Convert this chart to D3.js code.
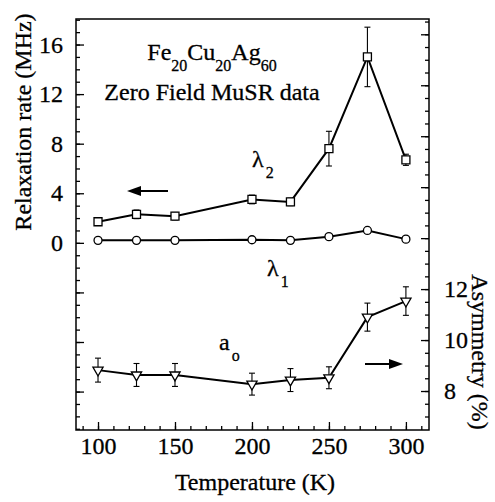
<!DOCTYPE html>
<html>
<head>
<meta charset="utf-8">
<script src="https://cdn.jsdelivr.net/npm/d3@7"></script>
<style>
  body { margin: 0; background: #fff; }
  svg text { stroke: #000; stroke-width: 0.3px; }
</style>
</head>
<body>
<script>
// data
var temps = [100, 125, 150, 200, 225, 250, 275, 300];
var lambda2 = [1.7, 2.3, 2.15, 3.5, 3.3, 7.6, 15.0, 6.7];
var lambda2Err = [0.3, 0.35, 0.3, 0.35, 0.3, 1.4, 2.4, 0.45];
var lambda1 = [0.2, 0.2, 0.2, 0.25, 0.2, 0.5, 1.0, 0.3];
var asym = [8.82, 8.63, 8.63, 8.27, 8.43, 8.52, 10.9, 11.53];
var asymErr = [0.47, 0.45, 0.45, 0.43, 0.45, 0.43, 0.55, 0.56];

var xTicks = [100, 150, 200, 250, 300];
var leftTicks = [0, 4, 8, 12, 16];
var rightTicks = [8, 10, 12];

var serif = "'Liberation Serif', 'Times New Roman', Times, serif";
var width = 495, height = 502;
var margin = {left: 76, top: 19, right: 66, bottom: 72};
var plotR = width - margin.right, plotB = height - margin.bottom;

var svg = d3.select("body").append("svg")
  .attr("width", width)
  .attr("height", height)
  .attr("font-family", serif);

var x = d3.scaleLinear().domain([85.7, 315]).range([margin.left, plotR]);
var yL = d3.scaleLinear().domain([-15.1, 18.06]).range([plotB, margin.top]);
var yR = d3.scaleLinear().domain([6.47, 22.6]).range([plotB, margin.top]);

// minor ticks
svg.append("g")
  .attr("transform", "translate(0," + plotB + ")")
  .call(d3.axisBottom(x).tickValues(d3.range(90, 315, 10)).tickSize(-4).tickFormat(""));
svg.append("g")
  .attr("transform", "translate(" + margin.left + ",0)")
  .call(d3.axisLeft(yL).tickValues(d3.range(-15, 19, 1)).tickSize(-4).tickFormat(""));
svg.append("g")
  .attr("transform", "translate(" + plotR + ",0)")
  .call(d3.axisRight(yR).tickValues(d3.range(7, 22.6, 0.5)).tickSize(-4).tickFormat(""));

// major ticks + labels
var xa = svg.append("g")
  .attr("transform", "translate(0," + plotB + ")")
  .call(d3.axisBottom(x).tickValues(xTicks).tickSize(-8).tickPadding(16));
var la = svg.append("g")
  .attr("transform", "translate(" + margin.left + ",0)")
  .call(d3.axisLeft(yL).tickValues([-12, -8, -4].concat(leftTicks)).tickSize(-8).tickPadding(13)
    .tickFormat(function(d) { return d >= 0 ? d : ""; }));
var ra = svg.append("g")
  .attr("transform", "translate(" + plotR + ",0)")
  .call(d3.axisRight(yR).tickValues(rightTicks.concat([14, 16, 18, 20, 22])).tickSize(-8).tickPadding(15)
    .tickFormat(function(d) { return d <= 12 ? d : ""; }));

svg.selectAll("g").attr("font-family", serif).attr("font-size", 24);
svg.selectAll(".domain").remove();
svg.selectAll(".tick line").attr("stroke", "#000").attr("stroke-width", 1.3);
xa.selectAll(".tick text").attr("dy", "0.35em");

svg.append("rect")
  .attr("x", margin.left).attr("y", margin.top)
  .attr("width", plotR - margin.left).attr("height", plotB - margin.top)
  .attr("fill", "none").attr("stroke", "#000").attr("stroke-width", 1.5);

// axis titles
svg.append("text")
  .attr("transform", "translate(31,122) rotate(-90)")
  .attr("text-anchor", "middle")
  .attr("font-size", 24)
  .text("Relaxation rate (MHz)");
svg.append("text")
  .attr("transform", "translate(472,352) rotate(90)")
  .attr("text-anchor", "middle")
  .attr("font-size", 24)
  .text("Asymmetry (%)");
svg.append("text")
  .attr("x", 255).attr("y", 490)
  .attr("text-anchor", "middle")
  .attr("font-size", 24)
  .text("Temperature (K)");

// error bars
function errBars(vals, errs, y) {
  var g = svg.append("g").attr("stroke", "#000").attr("stroke-width", 1.1);
  temps.forEach(function(t, i) {
    var cx = x(t), y0 = y(vals[i] - errs[i]), y1 = y(vals[i] + errs[i]);
    g.append("line").attr("x1", cx).attr("x2", cx).attr("y1", y0).attr("y2", y1);
    g.append("line").attr("x1", cx - 3).attr("x2", cx + 3).attr("y1", y0).attr("y2", y0);
    g.append("line").attr("x1", cx - 3).attr("x2", cx + 3).attr("y1", y1).attr("y2", y1);
  });
}
errBars(lambda2, lambda2Err, yL);
errBars(asym, asymErr, yR);

function series(vals, y, sym, size) {
  var line = d3.line().x(function(d, i) { return x(temps[i]); }).y(function(d) { return y(d); });
  svg.append("path").datum(vals)
    .attr("d", line).attr("fill", "none").attr("stroke", "#000").attr("stroke-width", 2);
  svg.selectAll(null).data(vals).enter().append("path")
    .attr("transform", function(d, i) { return "translate(" + x(temps[i]) + "," + y(d) + ")" + (sym === d3.symbolTriangle ? " rotate(180)" : ""); })
    .attr("d", d3.symbol().type(sym).size(size))
    .attr("fill", "#fff").attr("stroke", "#000").attr("stroke-width", 1.3);
}
series(lambda1, yL, d3.symbolCircle, 50);
series(lambda2, yL, d3.symbolSquare, 64);
series(asym, yR, d3.symbolTriangle, 45);

// annotations
var title = svg.append("text").attr("x", 212).attr("y", 60).attr("text-anchor", "middle").attr("font-size", 24);
title.append("tspan").text("Fe");
title.append("tspan").attr("font-size", 16).attr("dy", 11).text("20");
title.append("tspan").attr("dy", -11).text("Cu");
title.append("tspan").attr("font-size", 16).attr("dy", 11).text("20");
title.append("tspan").attr("dy", -11).text("Ag");
title.append("tspan").attr("font-size", 16).attr("dy", 11).text("60");
svg.append("text").attr("x", 212).attr("y", 100).attr("text-anchor", "middle").attr("font-size", 24)
  .text("Zero Field MuSR data");

function label(px, py, main, sub) {
  var t = svg.append("text").attr("x", px).attr("y", py).attr("font-size", 24);
  t.append("tspan").text(main);
  t.append("tspan").attr("font-size", 16).attr("dx", 2).attr("dy", 11).text(sub);
}
label(252, 167, "λ", "2");
label(267, 276, "λ", "1");
label(219, 350, "a", "o");

// arrows
function arrow(x1, x2, y) {
  var dir = x2 > x1 ? 1 : -1;
  svg.append("line").attr("x1", x1).attr("x2", x2 - dir * 10).attr("y1", y).attr("y2", y)
    .attr("stroke", "#000").attr("stroke-width", 2);
  svg.append("path")
    .attr("d", "M" + x2 + "," + y + "L" + (x2 - dir * 14) + "," + (y - 5) + "L" + (x2 - dir * 14) + "," + (y + 5) + "Z")
    .attr("fill", "#000");
}
arrow(168, 127, 191);
arrow(365, 403, 364);
</script>
</body>
</html>
